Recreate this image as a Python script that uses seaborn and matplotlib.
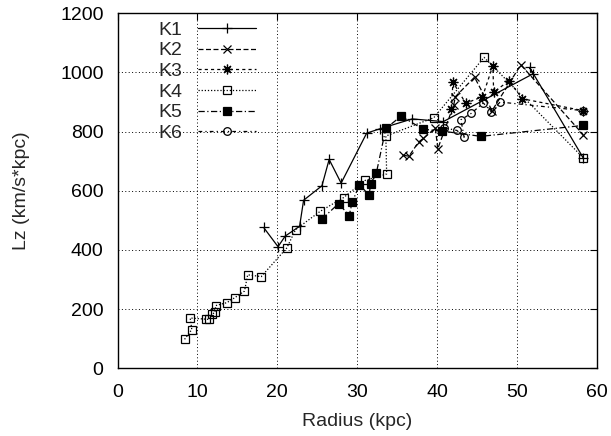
import matplotlib
matplotlib.use('Agg')
import matplotlib.pyplot as plt
import seaborn as sns

# ---- data ----
k1_x = [18.3, 20.1, 21.0, 22.8, 23.3, 25.6, 26.5, 28.0, 31.2, 32.9, 36.9, 40.8, 52.0, 51.6, 58.3]
k1_y = [476, 411, 447, 480, 568, 617, 706, 626, 795, 810, 843, 834, 995, 1017, 712]

k2_x = [35.8, 36.5, 37.7, 38.3, 39.8, 40.1, 42.1, 42.3, 44.7, 46.9, 50.5, 58.3]
k2_y = [720, 717, 765, 777, 812, 742, 890, 918, 984, 871, 1026, 790]

k3_x = [41.8, 42.0, 43.6, 45.7, 47.0, 47.1, 49.0, 50.7, 58.3]
k3_y = [877, 967, 896, 918, 1023, 933, 972, 911, 871]

k4_x = [8.4, 9.3, 9.1, 11.1, 11.5, 11.8, 12.2, 12.3, 13.7, 14.7, 15.9, 16.3, 18.0, 21.2,
        22.3, 25.4, 28.3, 31.0, 33.7, 33.6, 39.6, 45.9, 58.3]
k4_y = [98, 131, 170, 166, 165, 182, 189, 212, 222, 239, 261, 316, 310, 407,
        469, 531, 577, 635, 657, 785, 847, 1051, 712]

k5_x = [25.6, 27.7, 29.0, 29.4, 30.3, 31.5, 31.7, 32.4, 33.6, 35.5, 38.3, 40.6, 45.5, 58.3]
k5_y = [505, 557, 516, 562, 621, 585, 624, 659, 811, 852, 808, 802, 784, 821]

k6_x = [40.9, 42.5, 43.4, 43.0, 44.3, 45.8, 46.8, 47.9, 58.3]
k6_y = [813, 804, 781, 840, 862, 897, 867, 900, 871]

labels = ["K1", "K2", "K3", "K4", "K5", "K6"]
x_ticks = [0, 10, 20, 30, 40, 50, 60]
y_ticks = [0, 200, 400, 600, 800, 1000, 1200]

sns.set_theme(style='white')
plt.rcParams['font.family'] = ['Liberation Sans', 'DejaVu Sans']

W, H = 611, 436
fig = plt.figure(figsize=(W / 100, H / 100), dpi=100)
L, R, T, B = 117.5, 596.7, 13.3, 368.3
ax = fig.add_axes([L / W, 1 - B / H, (R - L) / W, (B - T) / H])

series = [(k1_x, k1_y), (k2_x, k2_y), (k3_x, k3_y), (k4_x, k4_y), (k5_x, k5_y), (k6_x, k6_y)]
styles = [
    dict(linestyle='-', marker='+', markersize=7.5, mfc='black'),
    dict(linestyle=(0, (4, 2)), marker='x', markersize=5.5, mfc='black'),
    dict(linestyle=(0, (2.5, 2.5)), marker=(8, 2, 0), markersize=7, mfc='black'),
    dict(linestyle=(0, (1, 1.5)), marker='s', markersize=5.4, mfc='none'),
    dict(linestyle=(0, (5, 2, 1, 2)), marker='s', markersize=6, mfc='black'),
    dict(linestyle=(0, (3, 2.5, 1, 2.5)), marker='o', markersize=5.5, mfc='none'),
]

for (xs, ys), lab, st in zip(series, labels, styles):
    sns.lineplot(x=xs, y=ys, sort=False, estimator=None, ax=ax, color='black',
                 lw=0.9, mec='black', mew=0.9, label=lab, **st)

ax.set_xlim(0, 60)
ax.set_ylim(0, 1200)
ax.set_xticks(x_ticks)
ax.set_yticks(y_ticks)
ax.tick_params(direction='in', length=5, width=0.8, top=True, right=True,
               labelsize=14, colors='black')
ax.tick_params(axis='y', pad=10)
ax.tick_params(axis='x', pad=11)
for sp in ax.spines.values():
    sp.set_color('black')
    sp.set_linewidth(1.0)
ax.grid(True, color='black', linestyle=(0, (1, 2.5)), linewidth=0.7)
ax.set_axisbelow(True)

ax.set_xlabel('Radius (kpc)', fontsize=14, labelpad=9)
ax.set_ylabel('Lz (km/s*kpc)', fontsize=14, labelpad=22)

leg = ax.legend(loc='upper left', bbox_to_anchor=(158 / W, 1 - 21 / H),
                bbox_transform=fig.transFigure, frameon=False, markerfirst=False,
                fontsize=14, handlelength=3.0, handletextpad=0.8, labelspacing=0.16,
                borderpad=0, borderaxespad=0)
for t in leg.get_texts():
    t.set_ha('right')

fig.savefig('out.png', dpi=100)
